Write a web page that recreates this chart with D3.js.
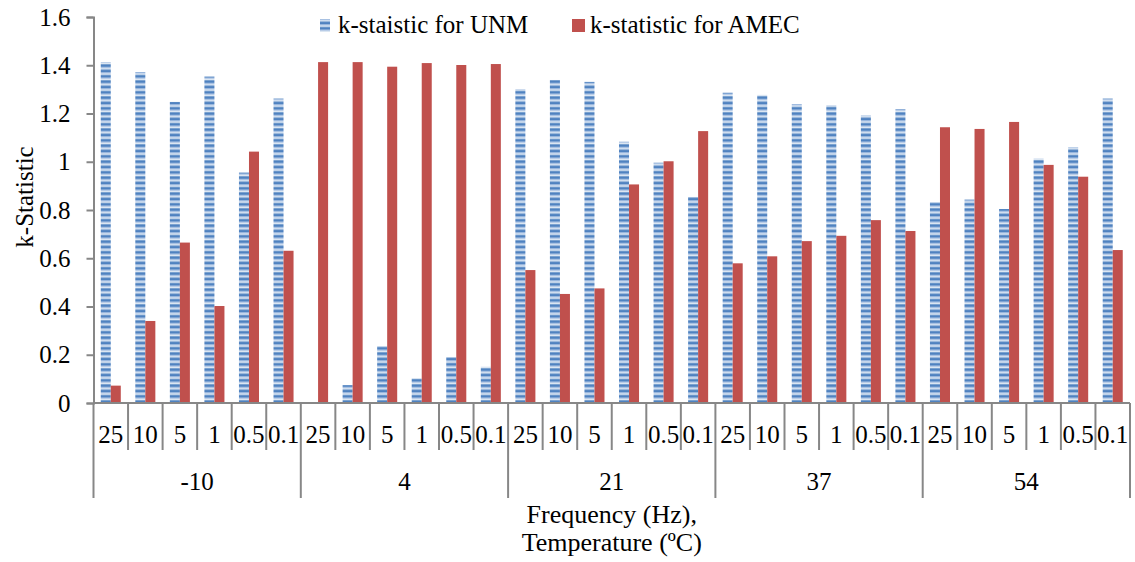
<!DOCTYPE html>
<html>
<head>
<meta charset="utf-8">
<script src="https://cdn.jsdelivr.net/npm/d3@7"></script>
<style>
  html, body { margin: 0; padding: 0; background: #fff; }
  svg { display: block; }
  text { font-family: "Liberation Serif", "Times New Roman", serif; fill: #000; }
</style>
</head>
<body>
<svg id="chart" width="1135" height="562"></svg>
<script>
// ---- data ----
const temperatures = ["-10", "4", "21", "37", "54"];
const frequencies = ["25", "10", "5", "1", "0.5", "0.1"];
const unmValues = [
  1.413, 1.372, 1.248, 1.353, 0.955, 1.262,
  0.004, 0.074, 0.236, 0.102, 0.190, 0.150,
  1.301, 1.339, 1.331, 1.083, 0.996, 0.854,
  1.286, 1.277, 1.239, 1.234, 1.192, 1.218,
  0.833, 0.843, 0.804, 1.013, 1.060, 1.262
];
const amecValues = [
  0.072, 0.340, 0.665, 0.402, 1.042, 0.631,
  1.413, 1.413, 1.394, 1.409, 1.401, 1.405,
  0.551, 0.452, 0.475, 0.906, 1.002, 1.127,
  0.579, 0.608, 0.671, 0.693, 0.758, 0.713,
  1.143, 1.136, 1.165, 0.987, 0.938, 0.634
];
const yTicks = [0, 0.2, 0.4, 0.6, 0.8, 1, 1.2, 1.4, 1.6];
const seriesNames = ["k-staistic for UNM", "k-statistic for AMEC"];

// ---- layout ----
const svg = d3.select("#chart");
const mLeft = 93.5, mRight = 1130, mTop = 17, mBottom = 403;
const FS = 25;
const FF = "'Liberation Serif', 'Times New Roman', serif";
const axisColor = "#878787";

const cats = [];
temperatures.forEach(t => frequencies.forEach(f => cats.push({ t, f, key: t + "|" + f })));
const rows = cats.map((c, i) => ({ ...c, unm: unmValues[i], amec: amecValues[i] }));

const x = d3.scaleBand().domain(cats.map(c => c.key)).range([mLeft, mRight]).padding(0);
const y = d3.scaleLinear().domain([0, 1.6]).range([mBottom, mTop]);
const bw = x.bandwidth() * 0.29;

// pattern for UNM
const defs = svg.append("defs");
const pat = defs.append("pattern").attr("id", "unmPat").attr("patternUnits", "userSpaceOnUse")
  .attr("width", 20).attr("height", 16 / 3);
pat.append("rect").attr("width", 20).attr("height", 16 / 3).attr("fill", "#dde7f3");
pat.append("rect").attr("y", 0.3).attr("width", 20).attr("height", 2.4).attr("fill", "#4f82c0");
pat.append("rect").attr("y", 2.7).attr("width", 20).attr("height", 1.2).attr("fill", "#93b3dc");

// bars
svg.append("g").selectAll("rect").data(rows).join("rect")
  .attr("x", d => x(d.key) + x.bandwidth() / 2 - bw)
  .attr("y", d => y(d.unm))
  .attr("width", bw)
  .attr("height", d => y(0) - y(d.unm))
  .attr("fill", "url(#unmPat)");
svg.append("g").selectAll("rect").data(rows).join("rect")
  .attr("x", d => x(d.key) + x.bandwidth() / 2)
  .attr("y", d => y(d.amec))
  .attr("width", bw)
  .attr("height", d => y(0) - y(d.amec))
  .attr("fill", "#c0504d");

// y axis
const yAxis = svg.append("g").attr("transform", `translate(${mLeft},0)`)
  .call(d3.axisLeft(y).tickValues(yTicks).tickSize(7).tickPadding(16).tickFormat(d3.format("")));
yAxis.attr("font-family", FF).attr("font-size", FS);
yAxis.select(".domain").attr("stroke", axisColor).attr("stroke-width", 2);
yAxis.selectAll(".tick line").attr("stroke", axisColor).attr("stroke-width", 2);
yAxis.selectAll(".tick text").attr("font-family", FF).attr("font-size", FS).attr("fill", "#000");

// x axis line
svg.append("line").attr("x1", mLeft).attr("x2", mRight).attr("y1", mBottom).attr("y2", mBottom)
  .attr("stroke", axisColor).attr("stroke-width", 2);

// category separators
const bounds = d3.range(cats.length + 1);
svg.append("g").selectAll("line").data(bounds).join("line")
  .attr("x1", i => mLeft + i * x.bandwidth())
  .attr("x2", i => mLeft + i * x.bandwidth())
  .attr("y1", mBottom)
  .attr("y2", i => (i % frequencies.length === 0) ? 498 : 450)
  .attr("stroke", axisColor).attr("stroke-width", 2);

const T = sel => sel.attr("font-family", FF).attr("font-size", FS).attr("fill", "#000");

// frequency labels
svg.append("g").selectAll("text").data(rows).join("text")
  .attr("x", d => x(d.key) + x.bandwidth() / 2)
  .attr("y", 443)
  .attr("text-anchor", "middle")
  .call(T)
  .text(d => d.f);

// temperature labels
const groupW = x.bandwidth() * frequencies.length;
svg.append("g").selectAll("text").data(temperatures).join("text")
  .attr("x", (t, i) => mLeft + i * groupW + groupW / 2)
  .attr("y", 490)
  .attr("text-anchor", "middle")
  .call(T)
  .text(t => t);

// axis titles
const cx = (mLeft + mRight) / 2;
svg.append("text").attr("x", cx).attr("y", 523).attr("text-anchor", "middle")
  .call(T).attr("font-size", 26).text("Frequency (Hz),");
svg.append("text").attr("x", cx).attr("y", 551).attr("text-anchor", "middle")
  .call(T).attr("font-size", 26).text("Temperature (ºC)");
svg.append("text").attr("transform", "translate(33,197) rotate(-90)").attr("text-anchor", "middle")
  .call(T).text("k-Statistic");

// legend
const legend = svg.append("g");
const lx = [320, 572];
const lfill = ["url(#unmPat)", "#c0504d"];
seriesNames.forEach((n, i) => {
  legend.append("rect").attr("x", lx[i]).attr("y", 19).attr("width", i === 0 ? 10 : 13).attr("height", 13)
    .attr("fill", lfill[i]);
  legend.append("text").attr("x", lx[i] + 18).attr("y", 33)
    .call(T).text(n);
});
</script>
</body>
</html>
